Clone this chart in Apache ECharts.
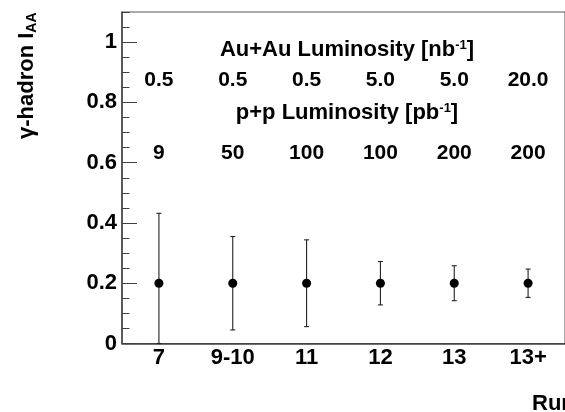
<!DOCTYPE html>
<html>
<head>
<meta charset="utf-8">
<script src="https://cdn.jsdelivr.net/npm/echarts@6/dist/echarts.min.js"></script>
<style>
  html, body { margin: 0; padding: 0; background: #fff; }
  #chart { width: 565px; height: 412px; }
</style>
</head>
<body>
<div id="chart"></div>
<script>
// Projected gamma-hadron I_AA per RHIC run, with statistical errors
const runs = ['7', '9-10', '11', '12', '13', '13+'];
const iaa = [0.2, 0.2, 0.2, 0.2, 0.2, 0.2];
const iaaErr = [0.232, 0.155, 0.144, 0.072, 0.058, 0.047];
// Integrated luminosities per run
const auauLumi = [0.5, 0.5, 0.5, 5.0, 5.0, 20.0];   // nb^-1
const ppLumi = [9, 50, 100, 100, 200, 200];          // pb^-1
// y axis range and major tick step
const yMin = 0, yMax = 1.1, yStep = 0.2, yMinorStep = 0.05;

const FONT = '"Liberation Sans", Arial, Helvetica, sans-serif';
const AXIS_COLOR = '#404040';
const AUAU_ROW = 0.874, PP_ROW = 0.631;

const chart = echarts.init(document.getElementById('chart'), null, { renderer: 'canvas' });

const errData = runs.map((r, i) => [i, iaa[i] - iaaErr[i], iaa[i] + iaaErr[i]]);

const textLabel = {
  show: true,
  position: 'inside',
  color: '#000',
  fontFamily: FONT,
  fontWeight: 'bold',
  fontSize: 21
};

chart.setOption({
  backgroundColor: '#fff',
  animation: false,
  grid: {
    left: 122, right: -8, top: 12, bottom: 68.5,
    show: true, borderColor: '#555', borderWidth: 1, backgroundColor: 'transparent'
  },
  xAxis: {
    type: 'category',
    data: runs,
    axisLine: { lineStyle: { color: AXIS_COLOR, width: 1.5 } },
    axisTick: { alignWithLabel: true, inside: true, length: 8, lineStyle: { color: AXIS_COLOR, width: 1 } },
    axisLabel: { color: '#000', fontFamily: FONT, fontWeight: 'bold', fontSize: 22, margin: 3 },
    splitLine: { show: false }
  },
  yAxis: [
    {
      type: 'value', position: 'left',
      min: yMin, max: yMax, interval: yStep,
      axisLine: { show: true, lineStyle: { color: AXIS_COLOR, width: 1.5 } },
      axisTick: { show: true, inside: true, length: 15, lineStyle: { color: AXIS_COLOR, width: 1 } },
      axisLabel: {
        color: '#000', fontFamily: FONT, fontWeight: 'bold', fontSize: 22, margin: 5,
        showMaxLabel: false,
        formatter: v => (v === 0 || v === 1) ? String(v) : v.toFixed(1)
      },
      splitLine: { show: false }
    },
    {
      type: 'value', position: 'left', offset: 0,
      min: yMin, max: yMax, interval: yMinorStep,
      axisLine: { show: false },
      axisTick: { show: true, inside: true, length: 7.5, lineStyle: { color: AXIS_COLOR, width: 1 } },
      axisLabel: { show: false },
      splitLine: { show: false }
    }
  ],
  graphic: [
    {
      type: 'text', x: 347, y: 50,
      style: {
        text: 'Au+Au Luminosity [nb{sup|-1}]',
        align: 'center', verticalAlign: 'middle',
        fontFamily: FONT, fontWeight: 'bold', fontSize: 22, fill: '#000',
        rich: { sup: { fontFamily: FONT, fontWeight: 'bold', fontSize: 13, verticalAlign: 'top', padding: [0, 0, 8, 0] } }
      }
    },
    {
      type: 'text', x: 347, y: 113,
      style: {
        text: 'p+p Luminosity [pb{sup|-1}]',
        align: 'center', verticalAlign: 'middle',
        fontFamily: FONT, fontWeight: 'bold', fontSize: 22, fill: '#000',
        rich: { sup: { fontFamily: FONT, fontWeight: 'bold', fontSize: 13, verticalAlign: 'top', padding: [0, 0, 8, 0] } }
      }
    },
    {
      type: 'text', x: 27, y: 139, rotation: Math.PI / 2,
      style: {
        text: 'γ-hadron I{sub|AA}',
        align: 'left', verticalAlign: 'middle',
        fontFamily: FONT, fontWeight: 'bold', fontSize: 22, fill: '#000',
        rich: { sub: { fontFamily: FONT, fontWeight: 'bold', fontSize: 14, verticalAlign: 'bottom', padding: [10, 0, 0, 0] } }
      }
    },
    {
      type: 'text', x: 532, y: 404,
      style: {
        text: 'Run',
        align: 'left', verticalAlign: 'middle',
        fontFamily: FONT, fontWeight: 'bold', fontSize: 22, fill: '#000'
      }
    }
  ],
  series: [
    {
      name: 'error',
      type: 'custom',
      data: errData,
      z: 3,
      renderItem(params, api) {
        const x = api.value(0);
        const lo = Math.max(api.value(1), yMin);
        const hi = api.value(2);
        const top = api.coord([x, hi]);
        const bot = api.coord([x, lo]);
        const hw = 2.5;
        const st = { stroke: '#222', lineWidth: 1.1 };
        return {
          type: 'group',
          children: [
            { type: 'line', shape: { x1: top[0], y1: top[1], x2: bot[0], y2: bot[1] }, style: st },
            { type: 'line', shape: { x1: top[0] - hw, y1: top[1], x2: top[0] + hw, y2: top[1] }, style: st },
            { type: 'line', shape: { x1: bot[0] - hw, y1: bot[1], x2: bot[0] + hw, y2: bot[1] }, style: st }
          ]
        };
      }
    },
    {
      name: 'IAA',
      type: 'scatter',
      data: iaa.map((v, i) => [i, v]),
      symbol: 'circle',
      symbolSize: 9,
      itemStyle: { color: '#000', opacity: 1 },
      z: 4
    },
    {
      name: 'AuAu luminosity',
      type: 'scatter',
      data: auauLumi.map((v, i) => [i, AUAU_ROW, v]),
      symbolSize: 0,
      itemStyle: { opacity: 1 },
      label: Object.assign({}, textLabel, { formatter: p => p.data[2].toFixed(1) })
    },
    {
      name: 'pp luminosity',
      type: 'scatter',
      data: ppLumi.map((v, i) => [i, PP_ROW, v]),
      symbolSize: 0,
      itemStyle: { opacity: 1 },
      label: Object.assign({}, textLabel, { formatter: p => String(p.data[2]) })
    }
  ]
});
</script>
</body>
</html>
